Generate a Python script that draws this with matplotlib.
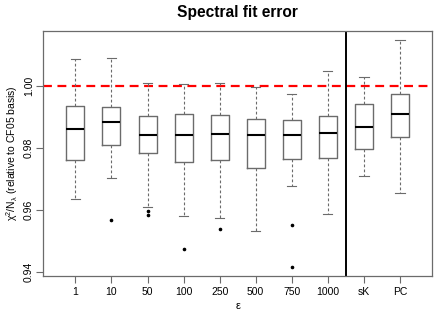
import numpy as np
import matplotlib
matplotlib.use("Agg")
import matplotlib.pyplot as plt

plt.rcParams['font.family'] = ['Liberation Sans', 'DejaVu Sans']
plt.rcParams['mathtext.fontset'] = 'custom'
plt.rcParams['mathtext.rm'] = 'Liberation Sans'
plt.rcParams['mathtext.it'] = 'Liberation Sans:italic'

# values
labels = ['1', '10', '50', '100', '250', '500', '750', '1000', 'sK', 'PC']
whislo = [0.9634, 0.9702, 0.9611, 0.9580, 0.9573, 0.9532, 0.9677, 0.9587, 0.9710, 0.9656]
q1 = [0.9761, 0.9811, 0.9783, 0.9754, 0.9761, 0.9734, 0.9763, 0.9767, 0.9795, 0.9835]
med = [0.9860, 0.9883, 0.9841, 0.9843, 0.9846, 0.9841, 0.9843, 0.9848, 0.9869, 0.9911]
q3 = [0.9936, 0.9931, 0.9902, 0.9909, 0.9906, 0.9894, 0.9889, 0.9902, 0.9943, 0.9973]
whishi = [1.0086, 1.0090, 1.0009, 1.0005, 1.0010, 0.9996, 0.9975, 1.0047, 1.0028, 1.0147]
fliers = [[], [0.9568], [0.9597, 0.9583], [0.9475], [0.9538], [], [0.9551, 0.9416], [], [], []]

stats = []
for i in range(len(labels)):
    stats.append(dict(label=labels[i], whislo=whislo[i], q1=q1[i], med=med[i],
                      q3=q3[i], whishi=whishi[i], fliers=fliers[i]))

fig = plt.figure(figsize=(4.36, 3.18), dpi=100)
ax = fig.add_axes([0.0986, 0.132, 0.893, 0.7705])

gray = '#6b6b6b'
pos = np.arange(1, len(labels) + 1)
ax.bxp(stats, positions=pos, widths=0.5, patch_artist=False,
       boxprops=dict(color=gray, lw=1.0),
       medianprops=dict(color='black', lw=1.5, solid_capstyle='butt'),
       whiskerprops=dict(color=gray, lw=0.8, ls=(0, (2.5, 2))),
       capprops=dict(color=gray, lw=0.8),
       flierprops=dict(marker='o', markersize=1.6, markerfacecolor='black',
                       markeredgecolor='black', ls='none'),
       capwidths=0.26)

ax.axhline(1.0, color='red', lw=1.6, ls=(0, (4, 2.5)), zorder=0)
ax.axvline(8.5, color='black', lw=1.4)

ax.set_xlim(0.1, 10.9)
ax.set_ylim(0.9387, 1.0177)
ax.set_xticks(pos)
ax.set_xticklabels(labels)
ax.set_yticks([0.94, 0.96, 0.98, 1.00])
ax.set_yticklabels(['0.94', '0.96', '0.98', '1.00'], rotation=90, va='center')
ax.tick_params(axis='both', direction='out', length=5, width=0.8, color=gray,
               labelsize=7.5)
ax.tick_params(axis='x', pad=3)
ax.tick_params(axis='y', pad=1.5)
for s in ax.spines.values():
    s.set_color(gray)
    s.set_linewidth(0.9)

ax.set_title('Spectral fit error', fontsize=11.2, fontweight='bold', pad=10)
ax.set_xlabel('\u03b5', fontsize=8)
ax.set_ylabel(r'$\mathregular{\chi^2/N_\lambda}$ (relative to CF05 basis)', fontsize=7.5)
ax.xaxis.set_label_coords(0.5, -0.1)
ax.yaxis.set_label_coords(-0.058, 0.5)

fig.savefig('out.png', dpi=100)
